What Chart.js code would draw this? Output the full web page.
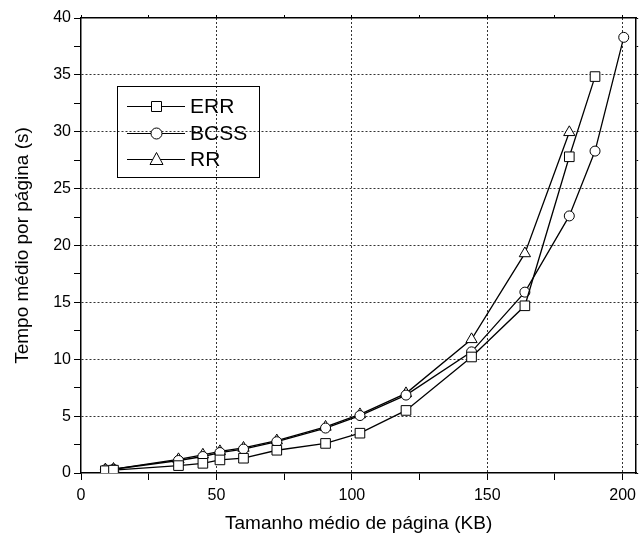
<!DOCTYPE html>
<html>
<head>
<meta charset="utf-8">
<script src="https://cdn.jsdelivr.net/npm/chart.js@4.4.0/dist/chart.umd.min.js"></script>
<style>
html, body { margin: 0; padding: 0; background: #fff; }
</style>
</head>
<body>
<canvas id="grafico" width="644" height="539"></canvas>
<script>
// Tamanho médio de página (KB) e tempo médio por página (s) de cada série
const tamanhoErr = [9, 12, 36, 45, 51.3, 60, 72.3, 90.3, 103, 120, 144.2, 163.9, 180.3, 189.8];
const tempoErr = [0.2, 0.25, 0.65, 0.85, 1.15, 1.3, 2.0, 2.6, 3.5, 5.5, 10.2, 14.7, 27.8, 34.85];

const tamanhoBcss = [9, 12, 36, 45, 51.3, 60, 72.3, 90.3, 103, 120, 144.2, 163.9, 180.3, 189.8, 200.4];
const tempoBcss = [0.28, 0.33, 1.1, 1.45, 1.8, 2.1, 2.75, 3.95, 5.05, 6.85, 10.65, 15.9, 22.6, 28.3, 38.3];

const tamanhoRr = [9, 12, 36, 45, 51.3, 60, 72.3, 90.3, 103, 120, 144.2, 163.9, 180.3];
const tempoRr = [0.3, 0.35, 1.2, 1.6, 1.9, 2.2, 2.85, 4.05, 5.15, 7.0, 11.75, 19.3, 29.95];

// Rótulos das séries
const nomesSeries = ['ERR', 'BCSS', 'RR'];

const fonte = '"Liberation Sans", Arial, sans-serif';

// Junta x e y em pontos para o gráfico de dispersão
function pontos(xs, ys) {
    return xs.map((x, i) => ({ x: x, y: ys[i] }));
}

// Desenha o marcador da legenda
function desenharMarcador(ctx, estilo, x, y) {
    ctx.beginPath();
    if (estilo === 'rect') {
        ctx.rect(x - 5, y - 5, 10, 10);
    } else if (estilo === 'circle') {
        ctx.arc(x, y, 5.5, 0, Math.PI * 2);
    } else {
        ctx.moveTo(x, y - 7);
        ctx.lineTo(x + 6.5, y + 5);
        ctx.lineTo(x - 6.5, y + 5);
        ctx.closePath();
    }
    ctx.fillStyle = '#fff';
    ctx.fill();
    ctx.stroke();
}

// Legenda com caixa, linha e marcador
const legendaCaixa = {
    id: 'legendaCaixa',
    afterDraw(chart) {
        const ctx = chart.ctx;
        const estilos = ['rect', 'circle', 'triangle'];
        ctx.save();
        ctx.strokeStyle = '#000';
        ctx.lineWidth = 1;
        ctx.strokeRect(117.5, 86.5, 142, 91);
        ctx.font = '21px ' + fonte;
        ctx.textBaseline = 'middle';
        nomesSeries.forEach((nome, i) => {
            const y = Math.round(106 + i * 26.5) + 0.5;
            ctx.beginPath();
            ctx.moveTo(127, y);
            ctx.lineTo(185, y);
            ctx.stroke();
            desenharMarcador(ctx, estilos[i], 156.5, y);
            ctx.fillStyle = '#000';
            ctx.fillText(nome, 190, y + 1);
        });
        ctx.restore();
    }
};

function corGrade(passo, maximo) {
    return ctx => {
        const v = ctx.tick ? ctx.tick.value : 0;
        return (v % passo === 0 && v > 0 && v < maximo) ? '#333' : 'rgba(0,0,0,0)';
    };
}

const ctxGrafico = document.getElementById('grafico').getContext('2d');
const grafico = new Chart(ctxGrafico, {
    type: 'scatter',
    data: {
        datasets: [{
            label: nomesSeries[0],
            data: pontos(tamanhoErr, tempoErr),
            pointStyle: 'rect',
            pointRadius: 6.8
        }, {
            label: nomesSeries[1],
            data: pontos(tamanhoBcss, tempoBcss),
            pointStyle: 'circle',
            pointRadius: 5
        }, {
            label: nomesSeries[2],
            data: pontos(tamanhoRr, tempoRr),
            pointStyle: 'triangle',
            pointRadius: 6.5
        }].map(d => Object.assign(d, {
            showLine: true,
            borderColor: '#000',
            borderWidth: 1.3,
            backgroundColor: '#fff',
            pointBorderColor: '#000',
            pointBackgroundColor: '#fff',
            pointBorderWidth: 1
        }))
    },
    options: {
        responsive: false,
        devicePixelRatio: 1,
        animation: false,
        layout: { padding: 0 },
        plugins: {
            legend: { display: false },
            tooltip: { enabled: false }
        },
        scales: {
            x: {
                type: 'linear',
                position: 'bottom',
                min: 0,
                max: 205,
                afterFit: s => { s.height = 66; },
                ticks: {
                    stepSize: 25,
                    includeBounds: false,
                    maxRotation: 0,
                    autoSkip: false,
                    padding: 6,
                    color: '#000',
                    font: { family: fonte, size: 16 },
                    callback: v => (v % 50 === 0 ? v : '')
                },
                grid: {
                    color: corGrade(50, 205),
                    tickColor: '#000',
                    tickLength: 7,
                    lineWidth: 1
                },
                border: { display: true, color: '#000', width: 1.5, dash: [2, 2] },
                title: {
                    display: true,
                    text: 'Tamanho médio de página (KB)',
                    color: '#000',
                    font: { family: fonte, size: 19 },
                    padding: { top: 0, bottom: 4 }
                }
            },
            x2: {
                type: 'linear',
                position: 'top',
                min: 0,
                max: 205,
                afterFit: s => { s.height = 18; },
                ticks: { display: false, stepSize: 25, includeBounds: false },
                grid: { drawOnChartArea: false, tickColor: '#000', tickLength: 3 },
                border: { display: true, color: '#000', width: 1.5 }
            },
            y: {
                type: 'linear',
                position: 'left',
                min: 0,
                max: 40,
                afterFit: s => { s.width = 81; },
                ticks: {
                    stepSize: 2.5,
                    autoSkip: false,
                    padding: 3,
                    color: '#000',
                    font: { family: fonte, size: 16 },
                    callback: v => (v % 5 === 0 ? v : '')
                },
                grid: {
                    color: corGrade(5, 40),
                    tickColor: '#000',
                    tickLength: 7,
                    lineWidth: 1
                },
                border: { display: true, color: '#000', width: 1.5, dash: [2, 2] },
                title: {
                    display: true,
                    text: 'Tempo médio por página (s)',
                    color: '#000',
                    font: { family: fonte, size: 19 },
                    padding: { top: 11, bottom: 0 }
                }
            },
            y2: {
                type: 'linear',
                position: 'right',
                min: 0,
                max: 40,
                afterFit: s => { s.width = 2; },
                ticks: { display: false, stepSize: 2.5 },
                grid: { drawOnChartArea: false, tickColor: '#000', tickLength: 2 },
                border: { display: true, color: '#000', width: 1.5 }
            }
        }
    },
    plugins: [legendaCaixa]
});
</script>
</body>
</html>
